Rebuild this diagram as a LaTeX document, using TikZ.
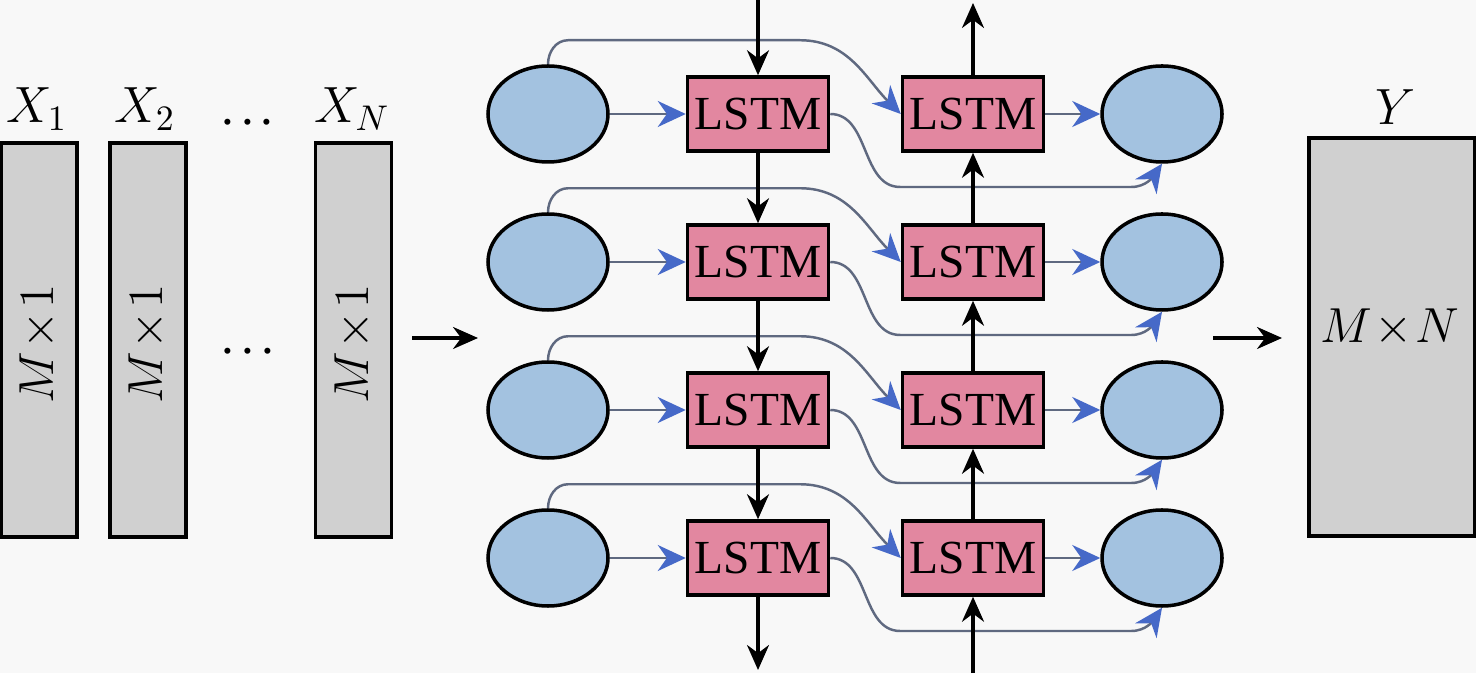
\documentclass[tikz,border=0pt]{standalone}
\usepackage{fix-cm}
\usepackage{fontspec}
\setmainfont{Liberation Serif}
\usetikzlibrary{arrows.meta,shapes.geometric}
\definecolor{paper}{RGB}{248,248,248}
\definecolor{unitblue}{RGB}{163,194,224}
\definecolor{lstmpink}{RGB}{226,135,160}
\definecolor{vecgray}{RGB}{208,208,208}
\definecolor{linkgray}{RGB}{95,105,128}
\definecolor{tipblue}{RGB}{70,105,200}

\begin{document}
\begin{tikzpicture}[
    cell/.style={draw, line width=1pt, fill=lstmpink, minimum width=1.41cm, minimum height=0.74cm, inner sep=0pt, font=\fontsize{13.5}{16}\selectfont},
    unit/.style={draw, ellipse, line width=1pt, fill=unitblue, minimum width=1.2cm, minimum height=0.96cm},
    vec/.style={draw, line width=1pt, fill=vecgray, inner sep=0pt},
    lab/.style={font=\fontsize{14.5}{17}\selectfont},
    flow/.style={-{Stealth[length=2.5mm,width=2.2mm]}, line width=0.9pt},
    conn/.style={-{Stealth[length=2.8mm,width=2.6mm,color=tipblue]}, line width=0.7pt, draw=linkgray}]
        \useasboundingbox (0,0) rectangle (14.76,6.73);
        \fill[paper] (0,0) rectangle (14.76,6.73);

        % input vectors
        \node[vec, minimum width=0.76cm, minimum height=3.94cm] (X1) at (0.39,3.33) {};
        \node[vec, minimum width=0.76cm, minimum height=3.94cm] (X2) at (1.48,3.33) {};
        \node[vec, minimum width=0.76cm, minimum height=3.94cm] (XN) at (3.535,3.33) {};
        \node[rotate=90, font=\fontsize{14}{17}\selectfont] (m1) at (0.39,3.29) {$M\!\times\!1$};
        \node[rotate=90, font=\fontsize{14}{17}\selectfont] (m2) at (1.48,3.29) {$M\!\times\!1$};
        \node[rotate=90, font=\fontsize{14}{17}\selectfont] (mN) at (3.535,3.29) {$M\!\times\!1$};
        \node[lab, anchor=base] (x1) at (0.37,5.50) {$X_1$};
        \node[lab, anchor=base] (x2) at (1.45,5.50) {$X_2$};
        \node[lab, anchor=base] (xN) at (3.52,5.50) {$X_N$};
        \node[lab, anchor=base] (d1) at (2.475,5.48) {.\hspace{0.14em}.\hspace{0.14em}.};
        \node[lab, anchor=base] (d2) at (2.48,3.19) {.\hspace{0.14em}.\hspace{0.14em}.};

        % output
        \node[vec, minimum width=1.66cm, minimum height=3.98cm] (Y) at (13.92,3.36) {};
        \node[font=\fontsize{14}{17}\selectfont] (mn) at (13.9,3.45) {$M\!\times\!N$};
        \node[lab] (y) at (13.95,5.66) {$Y$};

        \coordinate (a1) at (4.12,3.35);
        \coordinate (a2) at (4.78,3.35);
        \coordinate (b1) at (12.13,3.35);
        \coordinate (b2) at (12.82,3.35);
        \draw[flow] (a1) -- (a2);
        \draw[flow] (b1) -- (b2);

        % bidirectional layers
        \foreach \r/\y in {1/5.59, 2/4.11, 3/2.63, 4/1.15} {
            \node[unit] (in\r) at (5.48,\y) {};
            \node[cell] (fw\r) at (7.58,\y) {LSTM};
            \node[cell] (bw\r) at (9.73,\y) {LSTM};
            \node[unit] (out\r) at (11.62,\y) {};
            \draw[conn] (in\r) -- (fw\r);
            \draw[conn] (bw\r) -- (out\r);
            \draw[conn] (in\r.north) to[out=90,in=180] ++(0.2,0.24) -- ++(2.32,0) to[out=0,in=135] (bw\r.west);
            \draw[conn] (fw\r.east) to[out=0,in=180] ++(0.7,-0.73) -- ++(2.31,0) to[out=0,in=-125] (out\r.south);
        }
        \foreach \r/\s in {1/2, 2/3, 3/4} {
            \draw[flow] (fw\r) -- (fw\s);
            \draw[flow] (bw\s) -- (bw\r);
        }
        \coordinate (ta) at (7.58,6.73);
        \coordinate (ba) at (7.58,0.03);
        \coordinate (tb) at (9.73,6.70);
        \coordinate (bb) at (9.73,0);
        \draw[flow] (ta) -- (fw1);
        \draw[flow] (fw4) -- (ba);
        \draw[flow] (bb) -- (bw4);
        \draw[flow] (bw1) -- (tb);
    \end{tikzpicture}
\end{document}
